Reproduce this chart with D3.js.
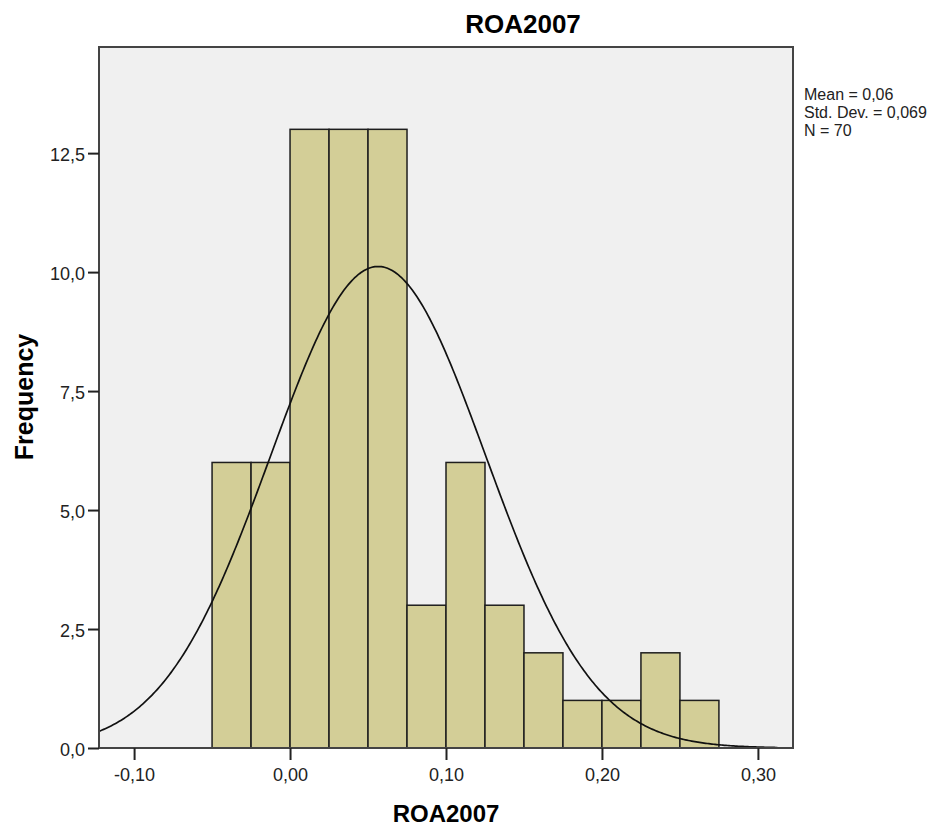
<!DOCTYPE html>
<html>
<head>
<meta charset="utf-8">
<script src="https://cdn.jsdelivr.net/npm/d3@7"></script>
<style>
  body { margin: 0; background: #fff; }
  text { font-family: "Liberation Sans", Arial, sans-serif; }
</style>
</head>
<body>
<div id="chart"></div>
<script>
// histogram bins (lower edge) and counts
const binStarts = [-0.05, -0.025, 0.0, 0.025, 0.05, 0.075, 0.1, 0.125, 0.15, 0.175, 0.2, 0.225, 0.25]
const counts = [6, 6, 13, 13, 13, 3, 6, 3, 2, 1, 1, 2, 1]
const binWidth = 0.025
const xTicks = [-0.1, 0.0, 0.1, 0.2, 0.3]
const yTicks = [0, 2.5, 5, 7.5, 10, 12.5]
const stats = ["Mean = 0,06", "Std. Dev. = 0,069", "N = 70"]
const mean = 0.0565, sd = 0.069, n = 70

const width = 952, height = 827
const margin = {left: 99, top: 47, right: 159, bottom: 79}
const fontFam = "'Liberation Sans', Arial, sans-serif"

const svg = d3.select("#chart").append("svg")
  .attr("width", width).attr("height", height)

const x = d3.scaleLinear().domain([-0.1225, 0.3225]).range([margin.left, width - margin.right])
const y = d3.scaleLinear().domain([0, 14.73]).range([height - margin.bottom, margin.top])

const comma = d => d.toFixed(2).replace(".", ",")

svg.append("rect")
  .attr("x", x.range()[0]).attr("y", y.range()[1])
  .attr("width", x.range()[1] - x.range()[0])
  .attr("height", y.range()[0] - y.range()[1])
  .attr("fill", "#f0f0f0")

svg.append("g").selectAll("rect")
  .data(binStarts).enter().append("rect")
  .attr("x", (d) => x(d))
  .attr("y", (d, i) => y(counts[i]))
  .attr("width", d => x(d + binWidth) - x(d))
  .attr("height", (d, i) => y(0) - y(counts[i]))
  .attr("fill", "#d3ce97")
  .attr("stroke", "#1e1e1e")
  .attr("stroke-width", 1.5)

// fitted normal curve
const pts = d3.range(-0.1225, 0.3126, 0.001).map(v => [v,
  n * binWidth * Math.exp(-0.5 * ((v - mean) / sd) ** 2) / (sd * Math.sqrt(2 * Math.PI))])
svg.append("path")
  .datum(pts)
  .attr("d", d3.line().x(d => x(d[0])).y(d => y(d[1])))
  .attr("fill", "none")
  .attr("stroke", "#111")
  .attr("stroke-width", 1.7)

// frame
svg.append("rect")
  .attr("x", x.range()[0]).attr("y", y.range()[1])
  .attr("width", x.range()[1] - x.range()[0])
  .attr("height", y.range()[0] - y.range()[1])
  .attr("fill", "none")
  .attr("stroke", "#444")
  .attr("stroke-width", 2)

const xAxis = svg.append("g")
  .attr("transform", `translate(0,${y(0)})`)
  .call(d3.axisBottom(x).tickValues(xTicks).tickSize(12).tickPadding(8).tickFormat(comma))
xAxis.select(".domain").remove()
xAxis.selectAll("line").attr("stroke", "#222").attr("stroke-width", 2)
xAxis.selectAll("text").attr("font-size", 18).attr("fill", "#222")
  .style("font-family", fontFam)

const yAxis = svg.append("g")
  .attr("transform", `translate(${x.range()[0]},0)`)
  .call(d3.axisLeft(y).tickValues(yTicks).tickSize(11).tickPadding(3).tickFormat(d => d.toFixed(1).replace(".", ",")))
yAxis.select(".domain").remove()
yAxis.selectAll("line").attr("stroke", "#222").attr("stroke-width", 2)
yAxis.selectAll("text").attr("font-size", 18).attr("fill", "#222").attr("dy", "0.4em")
  .style("font-family", fontFam)

svg.append("text")
  .attr("x", 523).attr("y", 33)
  .attr("text-anchor", "middle")
  .attr("font-size", 26).attr("font-weight", "bold")
  .text("ROA2007")

svg.append("text")
  .attr("x", 446).attr("y", 822)
  .attr("text-anchor", "middle")
  .attr("font-size", 24).attr("font-weight", "bold")
  .text("ROA2007")

svg.append("text")
  .attr("transform", "translate(33,397) rotate(-90)")
  .attr("text-anchor", "middle")
  .attr("font-size", 25).attr("font-weight", "bold")
  .text("Frequency")

svg.append("g").selectAll("text")
  .data(stats).enter().append("text")
  .attr("x", 804)
  .attr("y", (d, i) => 100 + i * 18)
  .attr("font-size", 16)
  .attr("fill", "#222")
  .text(d => d)
</script>
</body>
</html>
